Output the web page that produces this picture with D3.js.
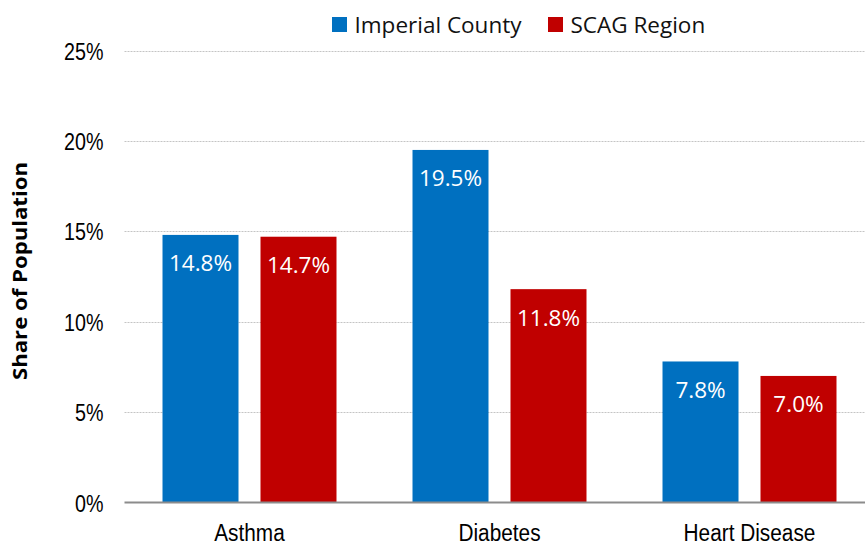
<!DOCTYPE html>
<html>
<head>
<meta charset="utf-8">
<script src="https://cdn.jsdelivr.net/npm/d3@7"></script>
<style>
  html, body { margin: 0; padding: 0; background: #fff; }
  svg { display: block; }
</style>
</head>
<body>
<svg id="chart" width="865" height="546"></svg>
<script>
// Health conditions: share of population, Imperial County vs SCAG Region
const categories = ["Asthma", "Diabetes", "Heart Disease"];
const seriesNames = ["Imperial County", "SCAG Region"];
const imperialValues = [14.8, 19.5, 7.8];
const scagValues = [14.7, 11.8, 7.0];
const yTicks = [0, 5, 10, 15, 20, 25];
const yTitle = "Share of Population";

const colors = { "Imperial County": "#0070c0", "SCAG Region": "#c00000" };
const seriesValues = { "Imperial County": imperialValues, "SCAG Region": scagValues };

const W = 865, H = 546;
const plot = { left: 124.5, right: 874.5, top: 50.5, bottom: 502.5 };

const svg = d3.select("#chart");

const x0 = d3.scaleBand().domain(categories).range([plot.left, plot.right]).padding(0);
const x1 = d3.scaleBand().domain(seriesNames).range([0, x0.bandwidth()])
  .paddingInner(0.2245).paddingOuter(0.3878);
const y = d3.scaleLinear().domain([0, 25]).range([plot.bottom, plot.top]);

// compress text horizontally to mimic a narrow sans face
function narrow(sel, ratio) {
  sel.each(function () {
    const len = this.getComputedTextLength();
    d3.select(this).attr("textLength", len * ratio).attr("lengthAdjust", "spacingAndGlyphs");
  });
}

// gridlines
svg.append("g")
  .selectAll("line")
  .data(yTicks.filter(d => d > 0))
  .join("line")
  .attr("x1", plot.left).attr("x2", W)
  .attr("y1", d => Math.round(y(d)) + 0.5).attr("y2", d => Math.round(y(d)) + 0.5)
  .attr("stroke", "#c4c4c4")
  .attr("stroke-width", 1)
  .attr("stroke-dasharray", "2,1");

// y axis tick labels
const yAxis = svg.append("g")
  .attr("transform", `translate(${plot.left},0)`)
  .call(d3.axisLeft(y).tickValues(yTicks).tickFormat(d => d + "%").tickSize(0).tickPadding(21));
yAxis.select(".domain").remove();
const yLabels = yAxis.selectAll("text")
  .attr("font-family", "'Liberation Sans', Arial, sans-serif")
  .attr("font-size", 24)
  .attr("fill", "#000")
  .attr("dy", "0.36em");
narrow(yLabels, 0.82);

// bars
const groups = svg.append("g")
  .selectAll("g")
  .data(categories)
  .join("g")
  .attr("transform", d => `translate(${x0(d)},0)`);

groups.selectAll("rect")
  .data((c, i) => seriesNames.map(s => ({ s, v: seriesValues[s][i] })))
  .join("rect")
  .attr("x", d => x1(d.s))
  .attr("width", x1.bandwidth())
  .attr("y", d => y(d.v))
  .attr("height", d => y(0) - y(d.v))
  .attr("fill", d => colors[d.s]);

// value labels inside bars
groups.selectAll("text.value")
  .data((c, i) => seriesNames.map(s => ({ s, v: seriesValues[s][i] })))
  .join("text")
  .attr("class", "value")
  .attr("x", d => x1(d.s) + x1.bandwidth() / 2)
  .attr("y", d => y(d.v) + 36.5)
  .attr("text-anchor", "middle")
  .attr("font-family", "'Open Sans', sans-serif")
  .attr("font-size", 22.5)
  .attr("fill", "#fff")
  .text(d => d.v.toFixed(1) + "%");

// x axis baseline
svg.append("line")
  .attr("x1", plot.left).attr("x2", W)
  .attr("y1", plot.bottom).attr("y2", plot.bottom)
  .attr("stroke", "#8c8c8c")
  .attr("stroke-width", 2);

// category labels
const xLabels = svg.append("g")
  .selectAll("text")
  .data(categories)
  .join("text")
  .attr("x", d => x0(d) + x0.bandwidth() / 2)
  .attr("y", 541)
  .attr("text-anchor", "middle")
  .attr("font-family", "'Liberation Sans', Arial, sans-serif")
  .attr("font-size", 23.5)
  .attr("fill", "#000")
  .text(d => d);
narrow(xLabels, 0.885);

// y axis title
svg.append("text")
  .attr("transform", "translate(27,271) rotate(-90)")
  .attr("text-anchor", "middle")
  .attr("font-family", "'Open Sans', sans-serif")
  .attr("font-weight", "bold")
  .attr("font-size", 20)
  .attr("fill", "#000")
  .text(yTitle)
  .call(sel => sel.attr("textLength", 218).attr("lengthAdjust", "spacingAndGlyphs"));

// legend
const legendX = [332, 548];
const legend = svg.append("g")
  .selectAll("g")
  .data(seriesNames)
  .join("g")
  .attr("transform", (d, i) => `translate(${legendX[i]},17)`);
legend.append("rect")
  .attr("width", 15).attr("height", 15)
  .attr("fill", d => colors[d]);
legend.append("text")
  .attr("x", 22.5)
  .attr("y", 16)
  .attr("font-family", "'Open Sans', sans-serif")
  .attr("font-size", 22.5)
  .attr("fill", "#111")
  .text(d => d);
</script>
</body>
</html>
